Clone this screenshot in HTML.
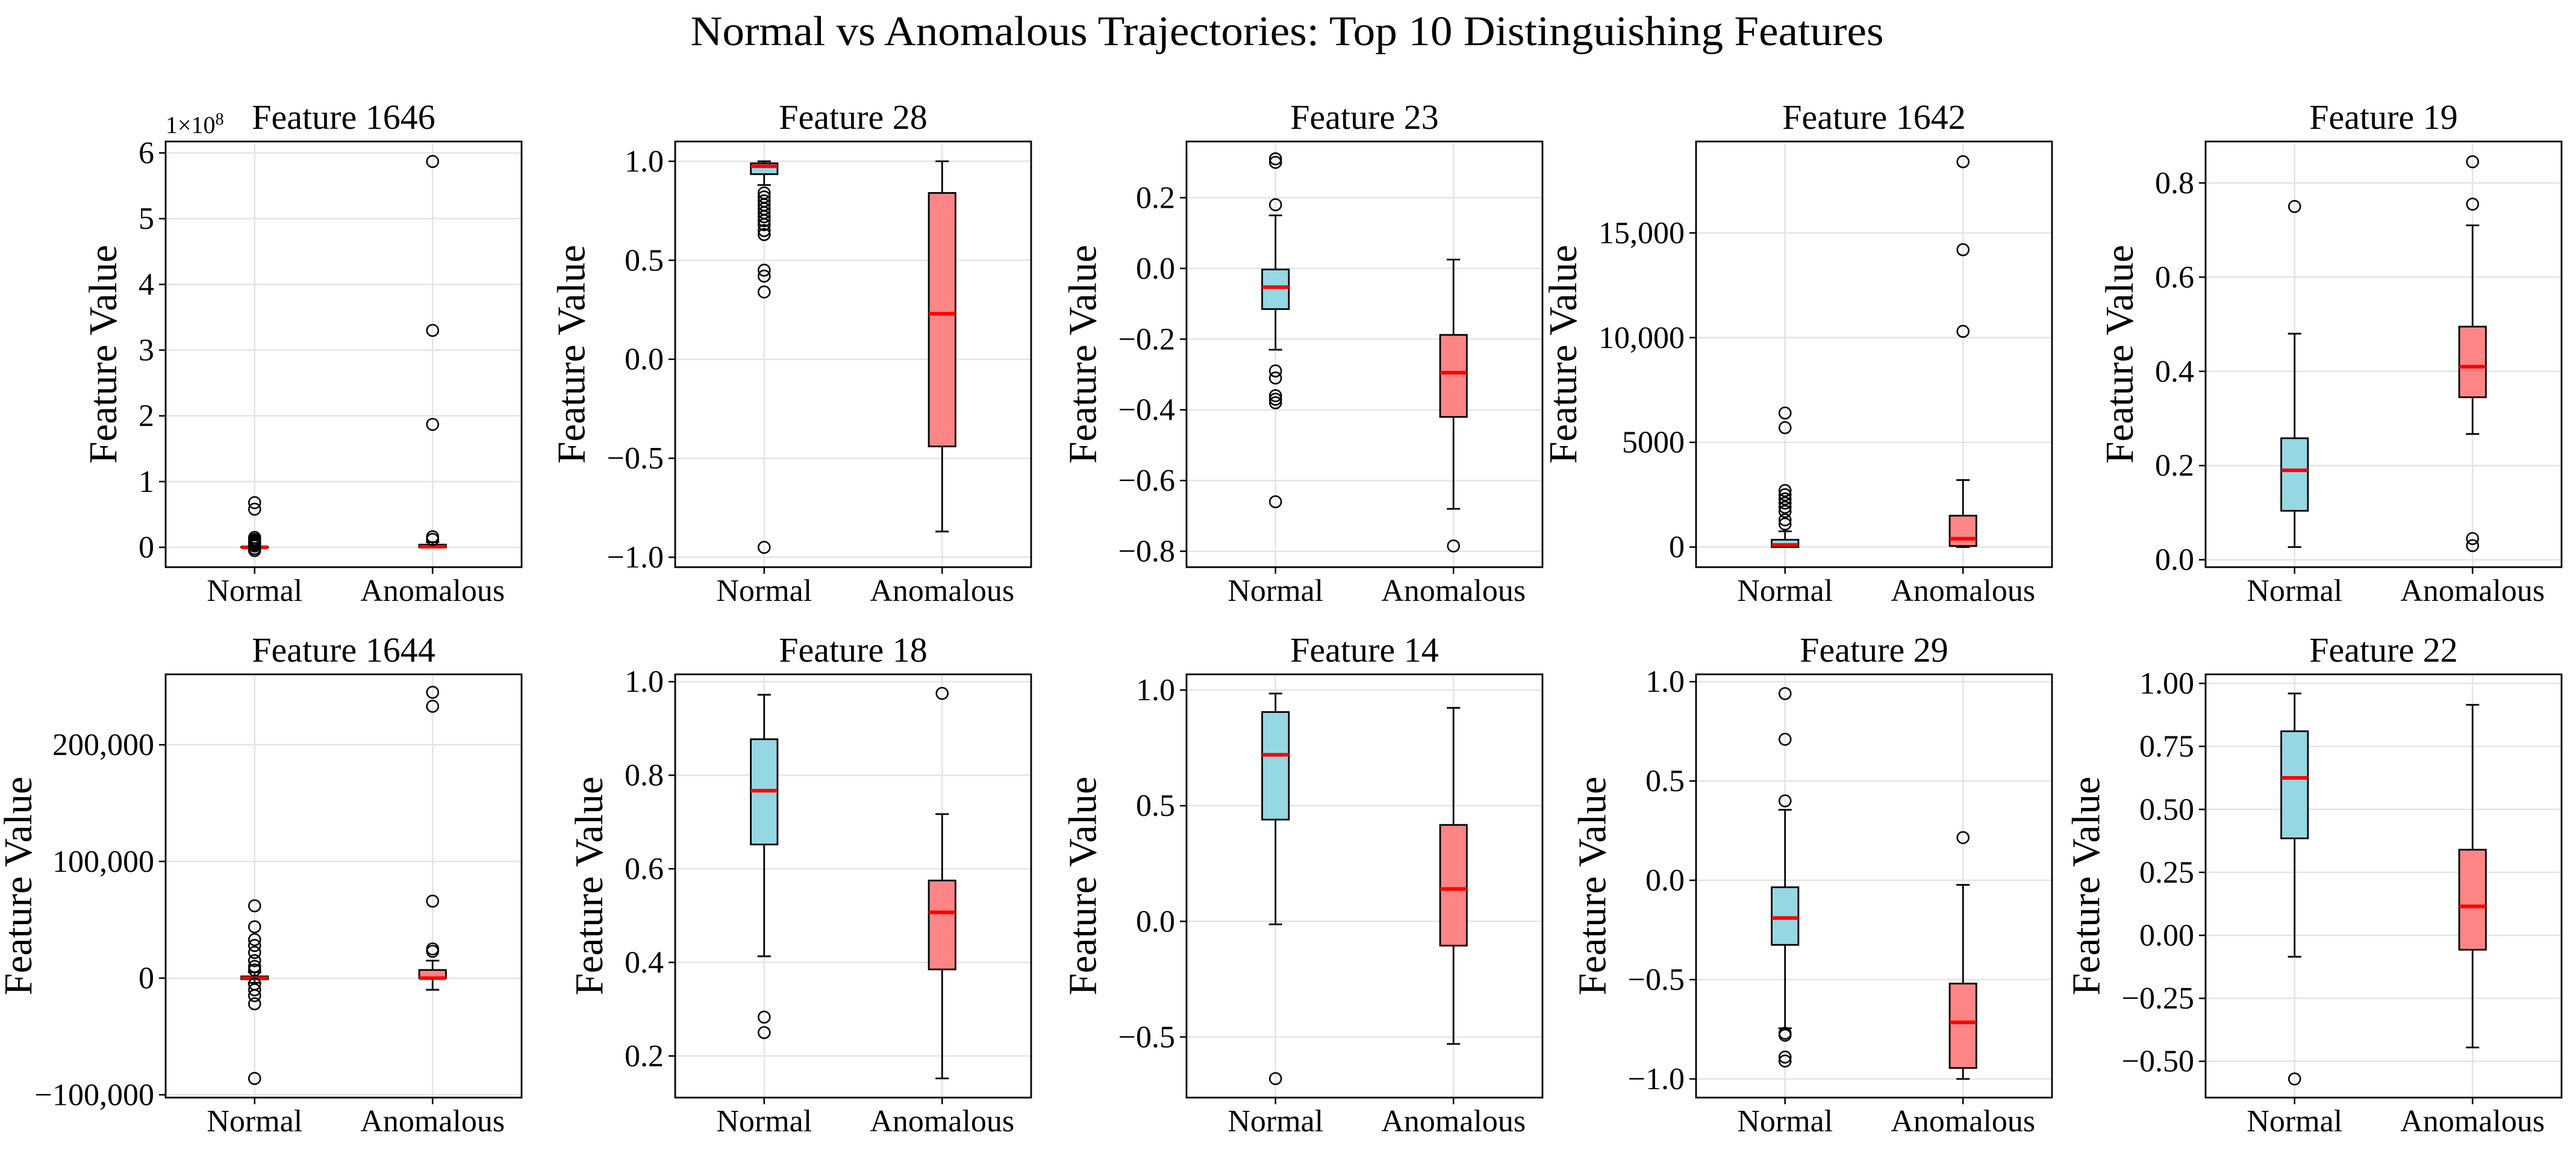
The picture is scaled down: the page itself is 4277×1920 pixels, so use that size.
<!DOCTYPE html>
<html><head><meta charset="utf-8">
<style>
html,body{margin:0;padding:0;background:#fff;}
svg{display:block;font-family:"Liberation Serif","DejaVu Serif",serif;}
</style></head>
<body>
<svg id="fig" xmlns="http://www.w3.org/2000/svg" width="4277" height="1920" viewBox="0 0 4277 1920">
<rect width="4277" height="1920" fill="#fff"/>
<text x="2137" y="75" font-size="70" text-anchor="middle" textLength="1981" lengthAdjust="spacingAndGlyphs">Normal vs Anomalous Trajectories: Top 10 Distinguishing Features</text>
</svg>
<script>
const categories = ["Normal", "Anomalous"];
const titles = ["Feature 1646","Feature 28","Feature 23","Feature 1642","Feature 19","Feature 1644","Feature 18","Feature 14","Feature 29","Feature 22"];
// box stats: [whisker low, q1, median, q3, whisker high]
const normalStats = [
  [0,0,0,0.005,0.01],
  [0.88,0.935,0.975,0.99,1.0],
  [-0.23,-0.115,-0.053,-0.003,0.15],
  [0,0,100,350,750],
  [0.027,0.104,0.19,0.258,0.48],
  [-4000,-1000,0,1500,5000],
  [0.413,0.652,0.767,0.877,0.972],
  [-0.013,0.44,0.72,0.905,0.985],
  [-0.745,-0.325,-0.19,-0.035,0.355],
  [-0.085,0.385,0.625,0.81,0.96]
];
const anomStats = [
  [0,0,0.01,0.04,0.08],
  [-0.87,-0.44,0.23,0.84,1.0],
  [-0.68,-0.42,-0.295,-0.188,0.025],
  [0,50,400,1500,3200],
  [0.267,0.345,0.41,0.495,0.71],
  [-10000,0,0,7000,15000],
  [0.152,0.385,0.507,0.575,0.717],
  [-0.53,-0.105,0.14,0.417,0.923],
  [-1.0,-0.945,-0.715,-0.52,-0.023],
  [-0.445,-0.057,0.115,0.34,0.915]
];
const normalOutliers = [
  [0.68,0.58,0.15,0.12,0.1,0.08,0.06,0.04,0.02,-0.02,-0.05],
  [0.84,0.82,0.8,0.78,0.76,0.74,0.72,0.7,0.68,0.65,0.63,0.45,0.42,0.34,-0.95],
  [0.31,0.30,0.18,-0.29,-0.31,-0.36,-0.37,-0.38,-0.66],
  [1100,1300,1700,1900,2100,2300,2500,2700,5700,6400],
  [0.75],
  [62000,44000,33000,28000,22000,15000,10000,7000,-5000,-10000,-15000,-22000,-86000],
  [0.283,0.25],
  [-0.68],
  [0.94,0.71,0.40,-0.77,-0.78,-0.89,-0.91],
  [-0.57]
];
const anomOutliers = [
  [5.87,3.3,1.87,0.16,0.12],
  [],
  [-0.785],
  [10300,14200,18400],
  [0.845,0.755,0.045,0.03],
  [245000,233000,66000,25000,23000],
  [0.975],
  [],
  [0.215],
  []
];
const yLimits = [
  [-0.302,6.174],[-1.05,1.10],[-0.845,0.359],[-960,19366],[-0.0157,0.888],
  [-102400,260400],[0.111,1.0157],[-0.762,1.068],[-1.094,1.037],[-0.644,1.036]
];
const tickValues = [
  [0,1,2,3,4,5,6],
  [-1,-0.5,0,0.5,1],
  [-0.8,-0.6,-0.4,-0.2,0,0.2],
  [0,5000,10000,15000],
  [0,0.2,0.4,0.6,0.8],
  [-100000,0,100000,200000],
  [0.2,0.4,0.6,0.8,1.0],
  [-0.5,0,0.5,1.0],
  [-1,-0.5,0,0.5,1],
  [-0.5,-0.25,0,0.25,0.5,0.75,1.0]
];
const tickLabels = [
  ["0","1","2","3","4","5","6"],
  ["−1.0","−0.5","0.0","0.5","1.0"],
  ["−0.8","−0.6","−0.4","−0.2","0.0","0.2"],
  ["0","5000","10,000","15,000"],
  ["0.0","0.2","0.4","0.6","0.8"],
  ["−100,000","0","100,000","200,000"],
  ["0.2","0.4","0.6","0.8","1.0"],
  ["−0.5","0.0","0.5","1.0"],
  ["−1.0","−0.5","0.0","0.5","1.0"],
  ["−0.50","−0.25","0.00","0.25","0.50","0.75","1.00"]
];

const NS = "http://www.w3.org/2000/svg";
const svg = document.getElementById("fig");
const lefts = [275, 1121, 1970, 2816, 3662];
const W = 591;
const rows = [{top:235,bottom:942,title:214,xlab:998},{top:1120,bottom:1823,title:1099,xlab:1879}];
const fills = ["#96d7e4","#fe8585"];
function mk(tag, attrs, parent){
  const e = document.createElementNS(NS, tag);
  for (const k in attrs) e.setAttribute(k, attrs[k]);
  (parent||svg).appendChild(e);
  return e;
}
for (let p = 0; p < 10; p++) {
  const r = rows[Math.floor(p/5)];
  const L = lefts[p%5], R = L + W, T = r.top, B = r.bottom;
  const [lo, hi] = yLimits[p];
  const y = v => B - (v - lo) / (hi - lo) * (B - T);
  const x = i => L + (i + 1 - 0.5) / 2 * W;
  const g = mk("g", {});
  
  
  tickValues[p].forEach(v => {
    const gl = mk("line", {x1:L, x2:R, y1:y(v), y2:y(v), stroke:"#e4e4e4", "stroke-width":2.5}, g);
    
    
  });
  categories.forEach((c, i) => {
    const gl = mk("line", {x1:x(i), x2:x(i), y1:T, y2:B, stroke:"#e4e4e4", "stroke-width":2.5}, g);
    
    
  });
  const statsList = [normalStats[p], anomStats[p]];
  const outList = [normalOutliers[p], anomOutliers[p]];
  categories.forEach((c, i) => {
    const s = statsList[i];
    const cx = x(i);
    const half = 0.15 / 2 * W / 2;
    const bg = mk("g", {}, g);
    
    
    mk("line", {x1:cx, x2:cx, y1:y(s[0]), y2:y(s[1]), stroke:"#000", "stroke-width":2.8}, bg);
    mk("line", {x1:cx, x2:cx, y1:y(s[3]), y2:y(s[4]), stroke:"#000", "stroke-width":2.8}, bg);
    mk("line", {x1:cx-half/2, x2:cx+half/2, y1:y(s[0]), y2:y(s[0]), stroke:"#000", "stroke-width":2.8}, bg);
    mk("line", {x1:cx-half/2, x2:cx+half/2, y1:y(s[4]), y2:y(s[4]), stroke:"#000", "stroke-width":2.8}, bg);
    mk("rect", {x:cx-half, y:y(s[3]), width:2*half, height:Math.max(0.5, y(s[1])-y(s[3])), fill:fills[i], stroke:"#000", "stroke-width":2.8}, bg);
    const med = mk("line", {x1:cx-half, x2:cx+half, y1:y(s[2]), y2:y(s[2]), stroke:"#ff0000", "stroke-width":6}, bg);
    
    
    outList[i].forEach(v => {
      const o = mk("circle", {cx:cx, cy:y(v), r:9.5, fill:"none", stroke:"#000", "stroke-width":2.6}, bg);
      
      
    });
  });
  const fr = mk("rect", {x:L, y:T, width:W, height:B-T, fill:"none", stroke:"#000", "stroke-width":2.8}, g);
  
  
  let maxW = 0;
  tickValues[p].forEach((v, k) => {
    mk("line", {x1:L-11, x2:L, y1:y(v), y2:y(v), stroke:"#000", "stroke-width":2.5}, g);
    const t = mk("text", {x:L-19, y:y(v)+17, "font-size":52, "text-anchor":"end"}, g);
    
    
    t.textContent = tickLabels[p][k];
    maxW = Math.max(maxW, t.getComputedTextLength());
  });
  categories.forEach((c, i) => {
    mk("line", {x1:x(i), x2:x(i), y1:B, y2:B+11, stroke:"#000", "stroke-width":2.5}, g);
    const t = mk("text", {x:x(i), y:r.xlab, "font-size":52, "text-anchor":"middle"}, g);
    
    
    t.textContent = c;
  });
  const tt = mk("text", {x:L+W/2, y:r.title, "font-size":58, "text-anchor":"middle"}, g);
  
  
  tt.textContent = titles[p];
  let lx = L - maxW - 56;
  if (p % 5 === 0) lx = Math.max(lx, 52);
  const yl = mk("text", {x:lx, y:(T+B)/2, "font-size":66, "text-anchor":"middle", transform:`rotate(-90 ${lx} ${(T+B)/2})`}, g);
  
  
  yl.textContent = "Feature Value";
  if (p === 0) {
    const off = mk("text", {x:L, y:221, "font-size":40}, g);
    
    
    off.textContent = "1×10";
    const sup = mk("tspan", {dy:-14, "font-size":28}, off);
    sup.textContent = "8";
  }
}
</script>
</body></html>
